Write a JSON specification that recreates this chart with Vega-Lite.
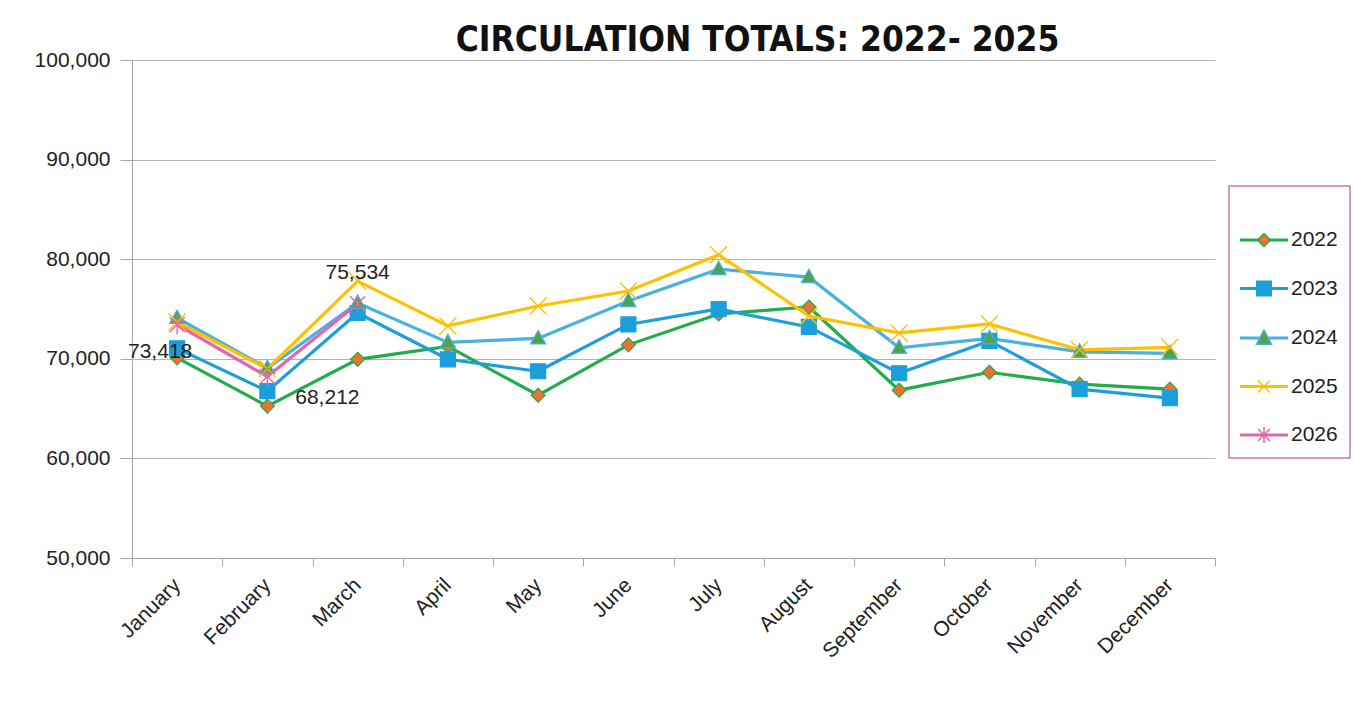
{
  "$schema": "https://vega.github.io/schema/vega-lite/v6.json",
  "width": 1083,
  "height": 498,
  "autosize": {"type": "none"},
  "padding": {"left": 132, "top": 60, "right": 138, "bottom": 146},
  "background": "white",
  "title": {
    "text": "CIRCULATION TOTALS: 2022- 2025",
    "anchor": "middle",
    "dx": 84,
    "offset": -9,
    "font": "Liberation Sans Narrow, DejaVu Sans Condensed, sans-serif",
    "fontWeight": "bold",
    "fontSize": 35,
    "color": "#111111"
  },
  "config": {
    "view": {"stroke": null},
    "font": "Liberation Sans",
    "axis": {"labelFont": "Liberation Sans", "labelColor": "#222222", "labelFontSize": 21, "domainColor": "#a6a6a6", "tickColor": "#a6a6a6", "gridColor": "#b3b3b3"}
  },
  "data": {
    "values": [
      {"month": "January", "year": "2022", "value": 70100},
      {"month": "February", "year": "2022", "value": 65250},
      {"month": "March", "year": "2022", "value": 69950},
      {"month": "April", "year": "2022", "value": 71250},
      {"month": "May", "year": "2022", "value": 66350},
      {"month": "June", "year": "2022", "value": 71400},
      {"month": "July", "year": "2022", "value": 74500},
      {"month": "August", "year": "2022", "value": 75200},
      {"month": "September", "year": "2022", "value": 66850},
      {"month": "October", "year": "2022", "value": 68650},
      {"month": "November", "year": "2022", "value": 67450},
      {"month": "December", "year": "2022", "value": 66950},
      {"month": "January", "year": "2023", "value": 71050},
      {"month": "February", "year": "2023", "value": 66750},
      {"month": "March", "year": "2023", "value": 74600},
      {"month": "April", "year": "2023", "value": 69950},
      {"month": "May", "year": "2023", "value": 68750},
      {"month": "June", "year": "2023", "value": 73450},
      {"month": "July", "year": "2023", "value": 75000},
      {"month": "August", "year": "2023", "value": 73200},
      {"month": "September", "year": "2023", "value": 68550},
      {"month": "October", "year": "2023", "value": 71800},
      {"month": "November", "year": "2023", "value": 66950},
      {"month": "December", "year": "2023", "value": 66050},
      {"month": "January", "year": "2024", "value": 74100},
      {"month": "February", "year": "2024", "value": 69050},
      {"month": "March", "year": "2024", "value": 75600},
      {"month": "April", "year": "2024", "value": 71650},
      {"month": "May", "year": "2024", "value": 72050},
      {"month": "June", "year": "2024", "value": 75800},
      {"month": "July", "year": "2024", "value": 79000},
      {"month": "August", "year": "2024", "value": 78200},
      {"month": "September", "year": "2024", "value": 71100},
      {"month": "October", "year": "2024", "value": 72050},
      {"month": "November", "year": "2024", "value": 70700},
      {"month": "December", "year": "2024", "value": 70550},
      {"month": "January", "year": "2025", "value": 73700},
      {"month": "February", "year": "2025", "value": 69000},
      {"month": "March", "year": "2025", "value": 77800},
      {"month": "April", "year": "2025", "value": 73300},
      {"month": "May", "year": "2025", "value": 75300},
      {"month": "June", "year": "2025", "value": 76800},
      {"month": "July", "year": "2025", "value": 80450},
      {"month": "August", "year": "2025", "value": 74300},
      {"month": "September", "year": "2025", "value": 72600},
      {"month": "October", "year": "2025", "value": 73500},
      {"month": "November", "year": "2025", "value": 70900},
      {"month": "December", "year": "2025", "value": 71150},
      {"month": "January", "year": "2026", "value": 73418},
      {"month": "February", "year": "2026", "value": 68212},
      {"month": "March", "year": "2026", "value": 75534}
    ]
  },
  "encoding": {
    "x": {
      "field": "month",
      "type": "nominal",
      "sort": null,
      "scale": {"type": "band", "paddingInner": 0, "paddingOuter": 0},
      "axis": {"title": null, "labelAngle": -45, "tickBand": "extent", "tickSize": 8, "labelPadding": 8, "labelOffset": -8, "grid": false}
    },
    "y": {
      "field": "value",
      "type": "quantitative",
      "scale": {"domain": [50000, 100000], "nice": false, "zero": false},
      "axis": {"title": null, "format": ",.0f", "values": [50000, 60000, 70000, 80000, 90000, 100000], "tickSize": 12, "labelPadding": 10, "grid": true}
    }
  },
  "layer": [
    {
      "mark": {"type": "line", "strokeWidth": 3.2},
      "encoding": {
        "stroke": {
          "field": "year",
          "type": "nominal",
          "scale": {"domain": ["2022", "2023", "2024", "2025", "2026"], "range": ["#22ac4a", "#1c9fdb", "#47b1e0", "#ffc000", "#e466ac"]},
          "legend": {
            "title": " ",
            "titleFontSize": 14,
            "titlePadding": 17,
            "orient": "none",
            "legendX": 1097,
            "legendY": 126,
            "padding": 12,
            "strokeColor": "#c27bb0",
            "symbolSize": 400,
            "rowPadding": 27.5,
            "labelOffset": 28,
            "labelFontSize": 21,
            "labelColor": "#222222",
            "labelFont": "Liberation Sans",
            "encode": {
              "legend": {"update": {"strokeWidth": {"value": 1.5}}},
              "symbols": {
                "update": {
                  "shape": {"signal": "datum.value == '2022' ? 'M-1.2,-0.08H0.6M-1.2,0.08H0.6M1.8,-0.08H3.6M1.8,0.08H3.6M1.2,-0.65L1.85,0L1.2,0.65L0.55,0Z' : datum.value == '2023' ? 'M-1.2,-0.08H0.5M-1.2,0.08H0.5M1.9,-0.08H3.6M1.9,0.08H3.6M0.48,-0.72H1.92V0.72H0.48Z' : datum.value == '2024' ? 'M-1.2,-0.08H0.8M-1.2,0.08H0.8M1.6,-0.08H3.6M1.6,0.08H3.6M1.2,-0.78L1.95,0.62H0.45Z' : datum.value == '2025' ? 'M-1.2,-0.08H3.6M-1.2,0.08H3.6M0.6,-0.6L1.8,0.6M0.6,0.6L1.8,-0.6' : 'M-1.2,-0.08H3.6M-1.2,0.08H3.6M0.6,-0.6L1.8,0.6M0.6,0.6L1.8,-0.6M1.2,-0.8V0.8'"},
                  "fill": {"signal": "datum.value == '2022' ? '#ed7133' : datum.value == '2023' ? '#1a9fdb' : datum.value == '2024' ? '#4ea44a' : 'transparent'"},
                  "strokeWidth": {"value": 1.5},
                  "size": {"value": 400},
                  "opacity": {"value": 1}
                }
              }
            }
          }
        }
      }
    },
    {
      "transform": [{"filter": "datum.year == '2022'"}],
      "mark": {"type": "point", "shape": "M0,-1.4L1.4,0L0,1.4L-1.4,0Z", "size": 100, "fill": "#ed7133", "stroke": "#22ac4a", "strokeWidth": 1.2, "opacity": 1}
    },
    {
      "transform": [{"filter": "datum.year == '2023'"}],
      "mark": {"type": "point", "shape": "M-1.5,-1.5H1.5V1.5H-1.5Z", "size": 100, "fill": "#1a9fdb", "stroke": "#1c9fdb", "strokeWidth": 1.2, "opacity": 1}
    },
    {
      "transform": [{"filter": "datum.year == '2024'"}],
      "mark": {"type": "point", "shape": "M0,-1.6L1.5,1.1H-1.5Z", "size": 100, "fill": "#4ea44a", "stroke": "#47b1e0", "strokeWidth": 1.2, "opacity": 1}
    },
    {
      "transform": [{"filter": "datum.year == '2025'"}],
      "mark": {"type": "point", "shape": "M-1.7,-1.7L1.7,1.7M-1.7,1.7L1.7,-1.7", "size": 100, "fill": "transparent", "stroke": "#ffc000", "strokeWidth": 1.4, "opacity": 1}
    },
    {
      "transform": [{"filter": "datum.year == '2026'"}],
      "mark": {"type": "point", "shape": "M-1.5,-1.5L1.5,1.5M-1.5,1.5L1.5,-1.5M0,-1.9V1.9", "size": 100, "fill": "transparent", "stroke": "#e466ac", "strokeWidth": 1.4, "opacity": 1}
    },
    {
      "transform": [{"filter": "datum.year == '2026' && datum.month == 'January'"}],
      "mark": {"type": "text", "fontSize": 21, "color": "#222222", "dx": -17, "dy": 27},
      "encoding": {"text": {"field": "value", "type": "quantitative", "format": ","}}
    },
    {
      "transform": [{"filter": "datum.year == '2026' && datum.month == 'February'"}],
      "mark": {"type": "text", "fontSize": 21, "color": "#222222", "dx": 60, "dy": 21},
      "encoding": {"text": {"field": "value", "type": "quantitative", "format": ","}}
    },
    {
      "transform": [{"filter": "datum.year == '2026' && datum.month == 'March'"}],
      "mark": {"type": "text", "fontSize": 21, "color": "#222222", "dx": 0, "dy": -31},
      "encoding": {"text": {"field": "value", "type": "quantitative", "format": ","}}
    }
  ]
}
